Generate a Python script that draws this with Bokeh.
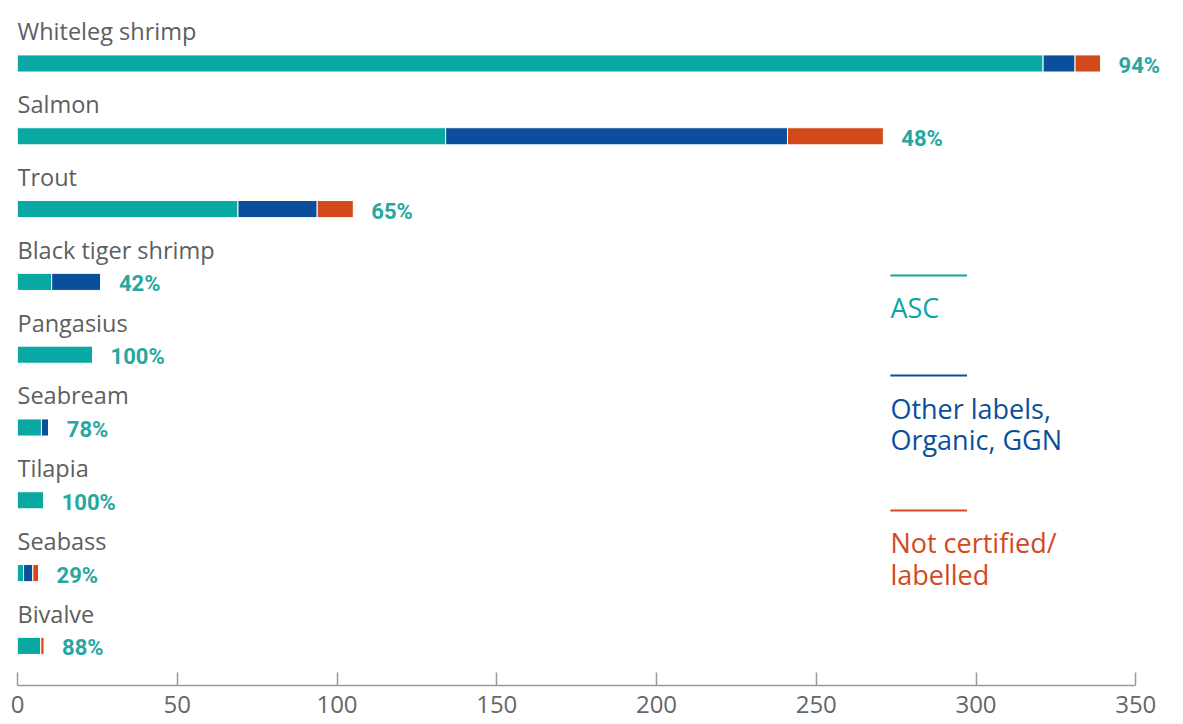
from bokeh.plotting import figure
from bokeh.models import ColumnDataSource, Range1d, FixedTicker
from bokeh.core.properties import value
from bokeh.embed import file_html
from bokeh.resources import INLINE

# ---- data ----
species = ["Whiteleg shrimp", "Salmon", "Trout", "Black tiger shrimp", "Pangasius",
           "Seabream", "Tilapia", "Seabass", "Bivalve"]
asc = [321, 134, 69, 10.7, 23.5, 7.5, 8.2, 1.9, 7.3]
other_labels = [10, 107, 24.8, 15.4, 0, 2.3, 0, 2.9, 0]
not_certified = [8, 30, 11.3, 0, 0, 0, 0, 1.8, 1.0]
asc_share = ["94%", "48%", "65%", "42%", "100%", "78%", "100%", "29%", "88%"]
series_names = ["ASC", "Other labels,\nOrganic, GGN", "Not certified/\nlabelled"]
x_ticks = [0, 50, 100, 150, 200, 250, 300, 350]

colors = ["#0aa8a2", "#0b4f9c", "#d24a1c"]
pct_color = "#26a7a0"
gray = "#5e5e5e"

idx = list(range(len(species)))
totals = [a + o + n for a, o, n in zip(asc, other_labels, not_certified)]
src = ColumnDataSource(dict(y=idx, name=species, asc=asc, other=other_labels,
                            notc=not_certified, total=totals, pct=asc_share))

p = figure(width=1175, height=724, output_backend="svg", toolbar_location=None,
           x_range=Range1d(0, 361.5), y_range=Range1d(8.544, -0.865),
           y_axis_location=None, min_border_left=17, min_border_right=3,
           min_border_top=0, min_border_bottom=39)
p.outline_line_color = None
p.grid.visible = False
p.background_fill_color = "white"

p.hbar_stack(["asc", "other", "notc"], y="y", height=0.235, color=colors,
             line_color="white", line_width=1, source=src)

p.text(x=0, y="y", text="name", source=src, text_font=value("Open Sans"),
       text_font_size="23.5px", text_color=gray, text_baseline="middle",
       text_align="left", y_offset=-32)

p.text(x="total", y="y", text="pct", source=src, text_font=value("Roboto"),
       text_font_style="bold", text_font_size="22px", text_color=pct_color,
       text_baseline="middle", text_align="left", x_offset=18, y_offset=2)

# legend (layout positions)
leg_x0, leg_x1 = 273.2, 297.2
leg_y = [2.912, 4.286, 6.14]
p.segment(x0=[leg_x0] * 3, x1=[leg_x1] * 3, y0=leg_y, y1=leg_y,
          line_color=colors, line_width=2)
p.text(x=[leg_x0] * 3, y=leg_y, text=series_names, text_font=value("Open Sans"),
       text_font_size="27px", text_color=colors, text_baseline="top",
       text_align="left", text_line_height=0.85, y_offset=14)

ax = p.xaxis[0]
ax.ticker = FixedTicker(ticks=x_ticks)
ax.bounds = (0, 350)
ax.axis_line_color = "#9a9a9a"
ax.axis_line_width = 1.5
ax.major_tick_line_color = "#9a9a9a"
ax.major_tick_line_width = 1.5
ax.major_tick_in = 13
ax.major_tick_out = 0
ax.minor_tick_line_color = None
ax.major_label_standoff = 10
ax.major_label_text_font = "Open Sans"
ax.major_label_text_font_size = "24px"
ax.major_label_text_color = "#666666"

open("out.html", "w").write(file_html(p, INLINE))
